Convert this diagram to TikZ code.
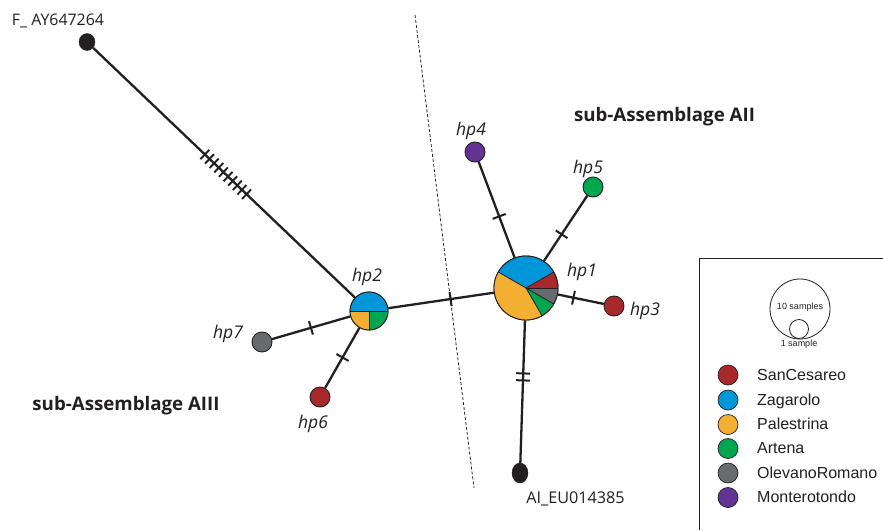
\documentclass[tikz,border=0pt]{standalone}
\usepackage{fontspec}
\setmainfont{Open Sans}
\newfontfamily\legfont{Liberation Sans}
\usetikzlibrary{decorations.markings,shapes.geometric}
\definecolor{cRed}{HTML}{A8292B}
\definecolor{cBlue}{HTML}{0096D8}
\definecolor{cOrange}{HTML}{F4AF32}
\definecolor{cGreen}{HTML}{00A650}
\definecolor{cGray}{HTML}{656B6F}
\definecolor{cPurple}{HTML}{623393}
\definecolor{cBlack}{HTML}{231F20}
\tikzset{
  hap/.style={circle, draw=cBlack, line width=0.9pt, minimum size=20pt, inner sep=0pt},
  outgroup/.style={ellipse, fill=cBlack, draw=cBlack, inner sep=0pt},
  conn/.style={draw=cBlack, line width=2.3pt},
  onetick/.style={postaction={decorate,decoration={markings,
      mark=at position #1 with {\draw[cBlack, line width=2pt] (0,-7pt) -- (0,7pt);}}}},
  hatchmarks/.style={postaction={decorate,decoration={markings,
      mark=between positions 154.5pt and 212.5pt step 6.4pt with {\draw[cBlack, line width=1.9pt] (0,-6.5pt) -- (0,6.5pt);}}}},
  hplab/.style={font=\fontsize{17.5}{20}\selectfont\itshape, anchor=base, inner sep=0pt, text=cBlack},
  sublab/.style={font=\fontsize{18.7}{22}\selectfont\bfseries, anchor=base, inner sep=0pt, text=cBlack},
  acclab/.style={anchor=base, inner sep=0pt, text=cBlack},
  legdot/.style={circle, draw=cBlack, line width=0.7pt, minimum size=20pt, inner sep=0pt},
  legtext/.style={font=\legfont\fontsize{16}{18}\selectfont, anchor=base west, inner sep=0pt, text=cBlack},
}
\begin{document}
\begin{tikzpicture}[x=1pt,y=-1pt]
\useasboundingbox (0,0) rectangle (883,530);
% dashed separator
\coordinate (dA) at (415,15);
\coordinate (dB) at (474,488);
\draw[cBlack, line width=0.8pt, dash pattern=on 3pt off 2pt] (dA) -- (dB);
% haplotype nodes
\node[hap, minimum size=64pt] (hp1) at (526,288) {};
\node[hap, minimum size=38pt] (hp2) at (369,311) {};
\node[hap, fill=cRed] (hp3) at (614,306) {};
\node[hap, fill=cPurple] (hp4) at (475,152) {};
\node[hap, fill=cGreen] (hp5) at (593,187) {};
\node[hap, fill=cRed] (hp6) at (320,397) {};
\node[hap, fill=cGray] (hp7) at (262,342) {};
\node[outgroup, minimum width=16pt, minimum height=17pt] (F) at (87,42) {};
\node[outgroup, minimum width=16pt, minimum height=20pt] (AI) at (520,473) {};
% pie hp1
\begin{scope}[shift={(hp1.center)}]
  \fill[cRed] (0,0) -- (0:32pt) arc[start angle=0, end angle=30, radius=32pt] -- cycle;
  \fill[cBlue] (0,0) -- (30:32pt) arc[start angle=30, end angle=150, radius=32pt] -- cycle;
  \fill[cOrange] (0,0) -- (150:32pt) arc[start angle=150, end angle=300, radius=32pt] -- cycle;
  \fill[cGreen] (0,0) -- (300:32pt) arc[start angle=300, end angle=330, radius=32pt] -- cycle;
  \fill[cGray] (0,0) -- (330:32pt) arc[start angle=330, end angle=360, radius=32pt] -- cycle;
  \foreach \a in {0,30,150,300,330} \draw[cBlack, line width=0.8pt] (0,0) -- (\a:32pt);
  \draw[cBlack, line width=0.9pt] (0,0) circle[radius=32pt];
\end{scope}
% pie hp2
\begin{scope}[shift={(hp2.center)}]
  \fill[cBlue] (0,0) -- (0:19pt) arc[start angle=0, end angle=180, radius=19pt] -- cycle;
  \fill[cOrange] (0,0) -- (180:19pt) arc[start angle=180, end angle=270, radius=19pt] -- cycle;
  \fill[cGreen] (0,0) -- (270:19pt) arc[start angle=270, end angle=360, radius=19pt] -- cycle;
  \foreach \a in {0,180,270} \draw[cBlack, line width=0.8pt] (0,0) -- (\a:19pt);
  \draw[cBlack, line width=0.9pt] (0,0) circle[radius=19pt];
\end{scope}
% connectors
\draw[conn, hatchmarks] (F) -- (hp2);
\draw[conn, onetick=63pt] (hp2) -- (hp1);
\draw[conn, onetick=41pt] (hp2) -- (hp7);
\draw[conn, onetick=34pt] (hp2) -- (hp6);
\draw[conn, onetick=44pt] (hp1) -- (hp4);
\draw[conn, onetick=32pt] (hp1) -- (hp5);
\draw[conn, onetick=16pt] (hp1) -- (hp3);
\draw[conn, onetick=53pt, onetick=60pt] (hp1) -- (AI);
% labels
\node[hplab] (l1) at (582,276) {hp1};
\node[hplab] (l2) at (367,281) {hp2};
\node[hplab] (l3) at (645,315) {hp3};
\node[hplab] (l4) at (471,135) {hp4};
\node[hplab] (l5) at (588,173) {hp5};
\node[hplab] (l6) at (313,428) {hp6};
\node[hplab] (l7) at (228,338) {hp7};
\node[sublab] (sA2) at (664.5,121.5) {sub-Assemblage AII};
\node[sublab] (sA3) at (126,410) {sub-Assemblage AIII};
\node[acclab, font=\fontsize{15.9}{18}\selectfont] (lF) at (58,25) {F\_ AY647264};
\node[acclab, font=\fontsize{16.2}{18}\selectfont] (lAI) at (575.5,503) {AI\_EU014385};
% legend
\coordinate (bxA) at (883,258);
\coordinate (bxB) at (699,258);
\coordinate (bxC) at (699,530);
\draw[cBlack, line width=0.9pt] (bxA) -- (bxB) -- (bxC);
\node[circle, draw=cBlack, line width=0.8pt, minimum size=60pt, inner sep=0pt] (s10) at (800,309) {};
\node[circle, draw=cBlack, line width=0.8pt, minimum size=19pt, inner sep=0pt] (s1) at (799,329) {};
\node[font=\legfont\fontsize{9}{10}\selectfont, inner sep=0pt, text=cBlack] (t10) at (800,307) {10 samples};
\node[font=\legfont\fontsize{9}{10}\selectfont, inner sep=0pt, text=cBlack] (t1) at (799,344) {1 sample};
\node[legdot, fill=cRed] (k1) at (728,375) {};
\node[legdot, fill=cBlue] (k2) at (728,400) {};
\node[legdot, fill=cOrange] (k3) at (728,424.5) {};
\node[legdot, fill=cGreen] (k4) at (728,448.5) {};
\node[legdot, fill=cGray] (k5) at (728,473) {};
\node[legdot, fill=cPurple] (k6) at (728,497.5) {};
\node[legtext] (n1) at (757,380) {SanCesareo};
\node[legtext] (n2) at (757,405) {Zagarolo};
\node[legtext] (n3) at (757,429.5) {Palestrina};
\node[legtext] (n4) at (757,453.5) {Artena};
\node[legtext] (n5) at (757,478) {OlevanoRomano};
\node[legtext] (n6) at (757,502.5) {Monterotondo};
\end{tikzpicture}
\end{document}
